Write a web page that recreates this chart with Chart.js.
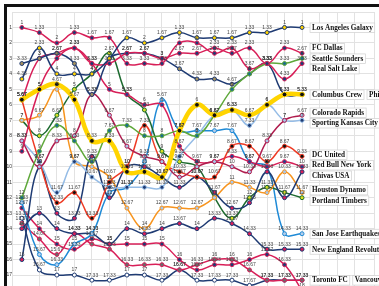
<!DOCTYPE html>
<html>
<head>
<meta charset="utf-8">
<script src="https://cdn.jsdelivr.net/npm/chart.js@4"></script>
<style>
  html, body { margin: 0; padding: 0; background: #fff; overflow: hidden; }
  #frame { position: absolute; left: 4px; top: 4px; border-top: 3px solid #111; border-left: 3px solid #111; }
  canvas { display: block; }
</style>
</head>
<body>
<div id="frame"><canvas id="rankChart" width="372" height="304"></canvas></div>
<script>
// weeks (x) - 17 ranking snapshots
const weeks = [0, 1, 2, 3, 4, 5, 6, 7, 8, 9, 10, 11, 12, 13, 14, 15, 16];

// team names (order = legend order)
const teams = [
  "Los Angeles Galaxy", "FC Dallas", "Seattle Sounders", "Real Salt Lake",
  "Columbus Crew", "Philadelphia Union", "Colorado Rapids", "Sporting Kansas City",
  "DC United", "Red Bull New York", "Chivas USA", "Houston Dynamo",
  "Portland Timbers", "San Jose Earthquakes", "New England Revolution",
  "Toronto FC", "Vancouver Whitecaps", "Chicago Fire"
];

// average rank per week
const laGalaxy     = [4.33, 2.33, 4, 4, 4, 3, 1.67, 2, 1.67, 1.33, 1.67, 1.67, 1.67, 1.33, 1.33, 1, 1];
const fcDallas     = [9, 5, 3, 2.33, 3.33, 3.33, 2.67, 2.67, 3, 2.67, 2.67, 2.33, 2.67, 2.33, 3.33, 2.33, 2.67];
const seattle      = [12, 9, 7.33, 8.33, 9.67, 7.67, 7.33, 8, 8, 7.67, 8, 6.67, 5, 4, 3.33, 3.33, 3];
const realSaltLake = [1, 1.33, 2, 1.33, 1.67, 1.67, 3.33, 3.33, 3.33, 2, 2, 2.67, 2.33, 3.67, 3.33, 4.33, 3.33];
const columbus     = [5.67, 5, 4.67, 5.67, 8.33, 8.33, 10.33, 10.33, 10.67, 7.67, 6, 6.67, 6.33, 6.67, 6, 5.33, 5.33];
const philadelphia = [3.33, 3, 2.67, 3.33, 5.33, 3, 2.67, 2.67, 3, 3.67, 4.33, 4.33, 4.67, 4, 3.33, 5.33, 5.33];
const colorado     = [8.33, 10, 8.33, 8, 5.33, 6.67, 8.67, 9.33, 9.67, 10.67, 10, 9.67, 10, 10.33, 8.33, 7, 6.67];
const sportingKC   = [8.33, 9.67, 11.67, 9.67, 10.67, 11.33, 11.33, 11.33, 11.33, 9.33, 8, 6.67, 6.33, 7.33, 6, 7, 7];
const dcUnited     = [5.67, 9.67, 12.33, 11.67, 13.33, 11, 10, 7.33, 9.67, 10.33, 10.67, 10.67, 8.67, 8.67, 9.67, 8.67, 9.33];
const redBulls     = [5.67, 3, 2.67, 2.33, 3.33, 5, 5.33, 6, 6, 8.67, 9.67, 9.67, 9.33, 9.67, 10, 9.67, 10];
const chivas       = [16, 10, 13, 13.33, 9.33, 12, 10, 10, 10.67, 11.33, 10.67, 11.67, 12.67, 12.33, 10.33, 12, 10.33];
const houston      = [7, 6.67, 5, 9.67, 10, 10.67, 12.67, 14, 12.67, 12.67, 12.67, 12, 11, 11.33, 11.67, 10.33, 11.67];
const portland     = [7, 8, 6.67, 5, 4, 2.67, 5.33, 6.33, 9, 9.67, 10, 12, 13.33, 12, 11.33, 11.67, 12];
const sanJose      = [12.33, 15.67, 16.33, 15, 14.33, 11.67, 11.33, 9.67, 5.67, 7.67, 7.67, 7.67, 7.67, 9.67, 10, 14.33, 14.33];
const newEngland   = [14, 13, 14, 14.33, 14.33, 15, 14, 14.33, 14, 13.67, 14, 13.33, 13.67, 14.33, 15.33, 15.33, 15.33];
const toronto      = [13.67, 14.67, 15.67, 14.33, 15, 15.33, 16.33, 16.33, 16.33, 16.67, 16.33, 16, 16, 16.67, 17.33, 17.33, 17.33];
const vancouver    = [13.33, 16.67, 17, 17, 17.33, 17.33, 17, 17, 17.33, 16.67, 17.33, 17.33, 17.33, 17.67, 17.33, 17.33, 17.33];
const chicago      = [12.67, 14, 15, 15.33, 14.67, 15, 15, 15, 15, 16, 16.67, 16.33, 16.33, 16, 15.67, 16.33, 18];

const series = [laGalaxy, fcDallas, seattle, realSaltLake, columbus, philadelphia, colorado, sportingKC,
  dcUnited, redBulls, chivas, houston, portland, sanJose, newEngland, toronto, vancouver, chicago];

// line colour / marker colour
const navy = "#1f3b73", crimson = "#d81f58";
const styles = [
  [navy, "#ffd200"], [crimson, navy], ["#5ea83a", "#1c6e8c"], [crimson, navy],
  ["#ffd400", "#111"], [navy, "#a28f5e"], ["#b01c4e", "#a9c6e8"], ["#95bce6", navy],
  ["#ee3a24", "#111"], [crimson, "#2a3f8a"], [navy, crimson], ["#f7941e", "#a9c6e8"],
  ["#1c6a2f", "#d6e025"], ["#1f8ad6", "#b3cdea"], [navy, crimson],
  [crimson, "#6a6a6a"], [navy, "#fff"], [crimson, navy]
];

const datasets = teams.map((name, i) => {
  const thick = name === "Columbus Crew";
  return {
    label: name,
    data: series[i].map((v, j) => ({ x: weeks[j], y: v })),
    borderColor: styles[i][0],
    backgroundColor: styles[i][1],
    pointBackgroundColor: styles[i][1],
    pointBorderColor: thick ? "#ffd400" : styles[i][0],
    pointBorderWidth: 1,
    pointRadius: thick ? 2.4 : 2,
    borderWidth: thick ? 4.5 : 1.5,
    tension: 0.4,
    order: thick ? -1 : i
  };
});

// small value above each point
const pointLabels = {
  id: "pointLabels",
  afterDatasetsDraw(chart) {
    const ctx = chart.ctx;
    ctx.save();
    ctx.font = '5px "Liberation Sans"';
    ctx.fillStyle = "#444";
    ctx.textAlign = "center";
    ctx.textBaseline = "bottom";
    chart.data.datasets.forEach((ds, i) => {
      chart.getDatasetMeta(i).data.forEach((pt, j) => {
        ctx.fillText(String(ds.data[j].y), pt.x, pt.y - 2.5);
      });
    });
    ctx.restore();
  }
};

// team names at the end of the lines, pushed apart when they collide
const endLabels = {
  id: "endLabels",
  afterDraw(chart) {
    const ctx = chart.ctx;
    const yScale = chart.scales.y;
    const gap = 10.5;
    const rowsByVal = {};
    chart.data.datasets.forEach((ds, i) => {
      const last = ds.data[ds.data.length - 1];
      const key = last.y.toFixed(2);
      if (!rowsByVal[key]) {
        const pts = chart.getDatasetMeta(i).data;
        rowsByVal[key] = { y0: yScale.getPixelForValue(last.y), x: pts[pts.length - 1].x, names: [] };
      }
      rowsByVal[key].names.push(ds.label);
    });
    const rows = Object.values(rowsByVal).sort((a, b) => a.y0 - b.y0);
    let clusters = rows.map(r => ({ items: [r], center: r.y0 }));
    let merged = true;
    while (merged) {
      merged = false;
      for (let k = 0; k < clusters.length - 1; k++) {
        const a = clusters[k], b = clusters[k + 1];
        const aBottom = a.center + (a.items.length - 1) * gap / 2;
        const bTop = b.center - (b.items.length - 1) * gap / 2;
        if (bTop - aBottom < gap) {
          const items = a.items.concat(b.items);
          const center = items.reduce((s, r) => s + r.y0, 0) / items.length;
          clusters.splice(k, 2, { items, center });
          merged = true;
          break;
        }
      }
    }
    ctx.save();
    ctx.font = 'bold 7.2px "Liberation Serif"';
    ctx.textBaseline = "middle";
    ctx.textAlign = "left";
    clusters.forEach(c => {
      c.items.forEach((r, n) => {
        const y = c.center + (n - (c.items.length - 1) / 2) * gap;
        let x = r.x + 8;
        r.names.forEach(name => {
          const w = ctx.measureText(name).width;
          ctx.fillStyle = "#fff";
          ctx.strokeStyle = "#cfcfcf";
          ctx.lineWidth = 0.7;
          ctx.fillRect(x, y - 4.5, w + 4, 9.5);
          ctx.strokeRect(x, y - 4.5, w + 4, 9.5);
          ctx.fillStyle = "#111";
          ctx.fillText(name, x + 2, y + 0.5);
          x += w + 7;
        });
      });
    });
    ctx.restore();
  }
};

new Chart(document.getElementById("rankChart"), {
  type: "line",
  data: { datasets },
  options: {
    responsive: false,
    animation: false,
    layout: { padding: 0 },
    plugins: { legend: { display: false }, tooltip: { enabled: false } },
    scales: {
      x: {
        type: "linear",
        min: -0.563,
        max: 20.11,
        ticks: { display: false, stepSize: 1 },
        grid: { color: "#e2e2e2", drawTicks: false },
        border: { display: false },
        afterFit: s => { s.height = 0; }
      },
      y: {
        reverse: true,
        min: 0,
        max: 19,
        ticks: {
          stepSize: 0.5,
          padding: 0,
          color: "#333",
          font: { size: 5, family: "Liberation Sans" },
          callback: v => (Number.isInteger(v) && v > 0 ? v : "")
        },
        grid: { color: "#e2e2e2", drawTicks: false },
        border: { display: false },
        afterFit: s => { s.width = 5; }
      }
    }
  },
  plugins: [pointLabels, endLabels]
});
</script>
</body>
</html>
